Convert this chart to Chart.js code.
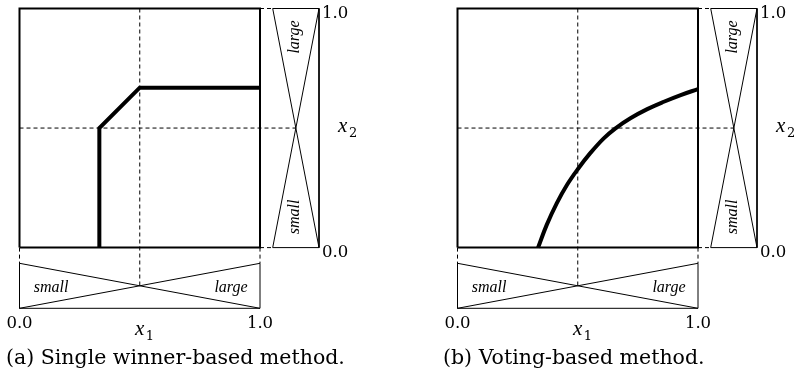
<!DOCTYPE html>
<html lang="en">
<head>
<meta charset="UTF-8">
<title>Fuzzy classification boundaries</title>
<script src="https://cdn.jsdelivr.net/npm/chart.js"></script>
<style>
  html, body { margin: 0; padding: 0; background: #fff; }
  body { width: 799px; height: 380px; position: relative; overflow: hidden; }
  canvas { position: absolute; top: 0; }
  #panelA { left: 0; }
  #panelB { left: 438px; }
</style>
</head>
<body>
<canvas id="panelA" width="361" height="380"></canvas>
<canvas id="panelB" width="361" height="380"></canvas>
<script>
// values
const tickValues = [0, 1];
const tickLabels = ['0.0', '1.0'];
const setNames = ['small', 'large'];
const memberAxis = [0, 1];      // x1 (or x2) at the ends of the range
const smallGrade = [1, 0];      // membership of "small"
const largeGrade = [0, 1];      // membership of "large"
const splitValue = 0.5;

const winnerX = [0.332, 0.332, 0.5, 1.0];
const winnerY = [0, 0.5, 0.669, 0.669];
const votingX = [0.335, 0.371, 0.413, 0.455, 0.503, 0.552, 0.608, 0.657, 0.719, 0.789, 0.858, 0.928, 1.0];
const votingY = [0, 0.095, 0.186, 0.262, 0.332, 0.395, 0.457, 0.499, 0.541, 0.579, 0.610, 0.638, 0.663];

const captions = ['(a) Single winner-based method.', '(b) Voting-based method.'];

// layout in canvas pixels
const W = 361, H = 380;
const SQ = { left: 19.5, right: 260, top: 8.5, bottom: 247.6 };
const SIDE = { left: 272.7, right: 319 };
const LOW = { top: 263.3, bottom: 308.3 };
const ux = SQ.right - SQ.left, uy = SQ.bottom - SQ.top;
const toX = px => (px - SQ.left) / ux;
const toY = py => (SQ.bottom - py) / uy;

const SERIF = '"DejaVu Serif", serif';

function seg(points, opts) {
  return Object.assign({
    data: points.map(p => ({ x: p[0], y: p[1] })),
    showLine: true, pointRadius: 0, borderColor: '#000', borderWidth: 1,
    fill: false, clip: false, tension: 0
  }, opts || {});
}

function grade(arr, v) {
  // straight line between the two ends
  return arr[0] + (arr[1] - arr[0]) * (v - memberAxis[0]) / (memberAxis[1] - memberAxis[0]);
}

function makePanel(id, bx, by, caption, smooth, capLeft) {
  const sx0 = toX(SIDE.left), sx1 = toX(SIDE.right);
  const ly0 = toY(LOW.bottom), ly1 = toY(LOW.top);
  const sideX = mu => sx1 - mu * (sx1 - sx0);
  const lowY = mu => ly0 + mu * (ly1 - ly0);
  const cross = grade(smallGrade, splitValue);
  const dash = { borderDash: [4, 3] };

  const datasets = [
    seg(bx.map((x, i) => [x, by[i]]), {
      borderWidth: 4, borderJoinStyle: 'miter', tension: smooth ? 0.4 : 0
    }),
    seg([[0, 0], [1, 0], [1, 1], [0, 1], [0, 0]], { borderWidth: 2 }),
    seg([[sx0, 1], [sx1, 1], [sx1, 0], [sx0, 0]]),
    seg(memberAxis.map((v, i) => [sideX(smallGrade[i]), v])),
    seg(memberAxis.map((v, i) => [sideX(largeGrade[i]), v])),
    seg([[0, ly1], [0, ly0], [1, ly0], [1, ly1]]),
    seg(memberAxis.map((v, i) => [v, lowY(smallGrade[i])])),
    seg(memberAxis.map((v, i) => [v, lowY(largeGrade[i])])),
    seg([[splitValue, 1], [splitValue, lowY(cross)]], dash),
    seg([[0, splitValue], [sideX(cross), splitValue]], dash),
    seg([[1, 1], [sx0, 1]], dash),
    seg([[1, 0], [sx0, 0]], dash),
    seg([[0, 0], [0, ly1]], dash),
    seg([[1, 0], [1, ly1]], dash)
  ];

  const labels = {
    id: 'labels',
    afterDraw(chart) {
      const ctx = chart.ctx;
      const X = v => chart.scales.x.getPixelForValue(v);
      const Y = v => chart.scales.y.getPixelForValue(v);
      ctx.save();
      ctx.fillStyle = '#000';
      ctx.textBaseline = 'alphabetic';

      // tick labels
      ctx.font = '16.5px ' + SERIF;
      ctx.textAlign = 'center';
      tickValues.forEach((v, i) => ctx.fillText(tickLabels[i], X(v), LOW.bottom + 20));
      ctx.textAlign = 'left';
      tickValues.forEach((v, i) => ctx.fillText(tickLabels[i], SIDE.right + 3, Y(v) + 9));

      // axis names
      ctx.font = 'italic 21px "Liberation Serif", serif';
      ctx.textAlign = 'center';
      ctx.fillText('x', X(splitValue), 335);
      ctx.textAlign = 'left';
      ctx.fillText('x', 338, Y(splitValue) + 4);
      ctx.font = '13px ' + SERIF;
      ctx.fillText('1', X(splitValue) + 6, 340);
      ctx.fillText('2', 349, Y(splitValue) + 9);

      // fuzzy set names
      ctx.font = 'italic 16px "Liberation Serif", serif';
      ctx.textAlign = 'center';
      ctx.fillText(setNames[0], 51, 292);
      ctx.fillText(setNames[1], 231, 292);
      ctx.textBaseline = 'middle';
      const midX = (SIDE.left + SIDE.right) / 2 - 1;
      [[setNames[1], 37], [setNames[0], 217]].forEach(([t, y]) => {
        ctx.save();
        ctx.translate(midX, y);
        ctx.rotate(-Math.PI / 2);
        ctx.fillText(t, 0, 0);
        ctx.restore();
      });

      // caption
      ctx.textBaseline = 'alphabetic';
      ctx.textAlign = 'left';
      ctx.font = '20.5px ' + SERIF;
      ctx.fillText(caption, capLeft, 364);
      ctx.restore();
    }
  };

  return new Chart(document.getElementById(id), {
    type: 'scatter',
    data: { datasets },
    options: {
      responsive: false,
      animation: false,
      events: [],
      layout: { padding: 0 },
      plugins: { legend: { display: false }, tooltip: { enabled: false } },
      scales: {
        x: { type: 'linear', display: false, min: toX(0), max: toX(W) },
        y: { type: 'linear', display: false, min: toY(H), max: toY(0) }
      }
    },
    plugins: [labels]
  });
}

makePanel('panelA', winnerX, winnerY, captions[0], false, 6);
makePanel('panelB', votingX, votingY, captions[1], true, 5);
</script>
</body>
</html>
